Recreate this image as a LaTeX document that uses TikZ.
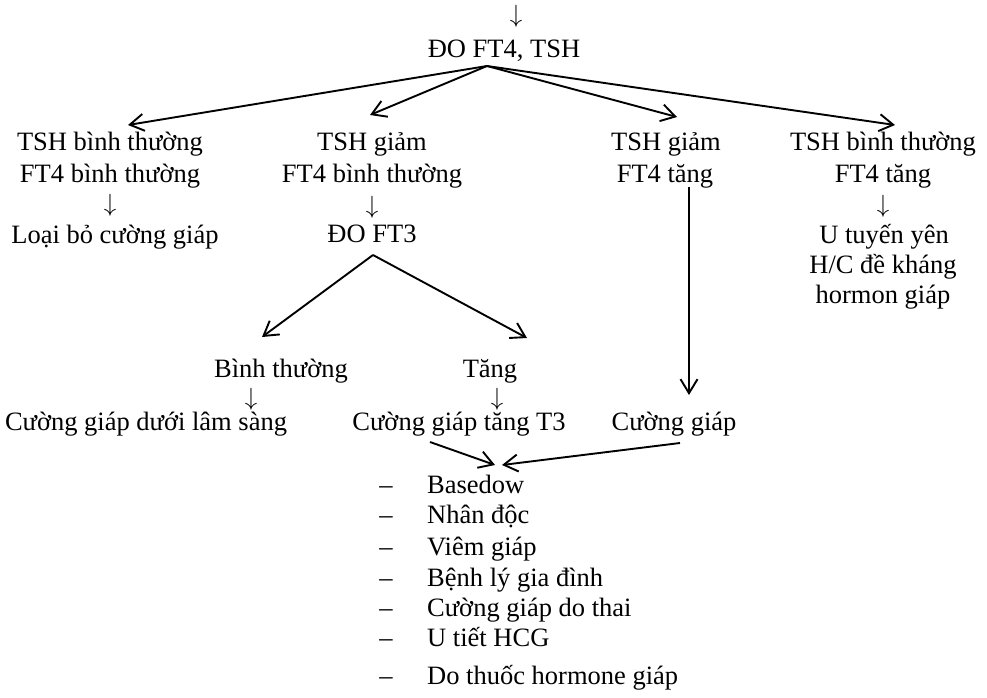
\documentclass[tikz,border=0pt]{standalone}
\usepackage{fontspec}
\setmainfont{Liberation Serif}
\usetikzlibrary{arrows.meta,positioning}

\begin{document}
\begin{tikzpicture}
[x=1pt, y=-1pt,
text-a/.style={inner sep=0pt, anchor=base, font=\fontsize{26.5}{30}\selectfont},
text-b/.style={text-a, anchor=base west},
down-a/.style={inner sep=0pt, anchor=center, font=\fontsize{27}{28}\selectfont},
link-a/.style={line width=1.9pt, -{Straight Barb[length=14pt,width=17pt,line width=1.9pt]}},]
\useasboundingbox (0,0) rectangle (987,697);
% top
\node (dn-0)     [down-a] at (516,16)  {$\downarrow$};
\node (do-ft4)   [text-a] at (504,57)  {ĐO FT4, TSH};
% four branches
\node (tsh-1)    [text-a] at (110,150) {TSH bình thường};
\node (ft4-1)    [text-a] at (110,182) {FT4 bình thường};
\node (dn-1)     [down-a] at (110,205) {$\downarrow$};
\node (res-1)    [text-a] at (115,243) {Loại bỏ cường giáp};
\node (tsh-2)    [text-a] at (372,150) {TSH giảm};
\node (ft4-2)    [text-a] at (372,182) {FT4 bình thường};
\node (dn-2)     [down-a] at (372,207) {$\downarrow$};
\node (do-ft3)   [text-a] at (372,242) {ĐO FT3};
\node (tsh-3)    [text-a] at (666,150) {TSH giảm};
\node (ft4-3)    [text-a] at (665,182) {FT4 tăng};
\node (tsh-4)    [text-a] at (883,150) {TSH bình thường};
\node (ft4-4)    [text-a] at (883,182) {FT4 tăng};
\node (dn-4)     [down-a] at (883,206) {$\downarrow$};
\node (res-4a)   [text-a] at (884,243) {U tuyến yên};
\node (res-4b)   [text-a] at (883,273) {H/C đề kháng};
\node (res-4c)   [text-a] at (883,303) {hormon giáp};
% FT3
\node (ft3-n)    [text-a] at (281,377) {Bình thường};
\node (ft3-t)    [text-a] at (490,377) {Tăng};
\node (dn-n)     [down-a] at (251,399) {$\downarrow$};
\node (dn-t)     [down-a] at (497,399) {$\downarrow$};
\node (res-n)    [text-a] at (146,430) {Cường giáp dưới lâm sàng};
\node (res-t)    [text-a] at (459,430) {Cường giáp tăng T3};
\node (res-3)    [text-a] at (674,430) {Cường giáp};
% causes
\foreach \i/\y/\txt in {1/493/Basedow, 2/523/Nhân độc, 3/555/Viêm giáp,
  4/586/Bệnh lý gia đình, 5/616/Cường giáp do thai, 6/646/U tiết HCG,
  7/684/Do thuốc hormone giáp}
{
  \node (dash-\i)  [text-a] at (386,\y) {–};
  \node (cause-\i) [text-b] at (427,\y) {\txt};
}
% arrow ends
\coordinate (fork-0) at (487,66);
\coordinate (tip-1)  at (128,125);
\coordinate (tip-2)  at (370,115);
\coordinate (tip-3)  at (677,117);
\coordinate (tip-4)  at (895,125);
\coordinate (fork-3) at (373,255);
\coordinate (tip-n)  at (262,337);
\coordinate (tip-t)  at (527,338);
\coordinate (line-3) at (689,187);
\coordinate (tip-c)  at (689,395);
\coordinate (from-t) at (430,442);
\coordinate (from-c) at (680,443);
\coordinate (tip-l)  at (495,465);
\coordinate (tip-r)  at (502,465);
\draw [link-a] (fork-0) -- (tip-1);
\draw [link-a] (fork-0) -- (tip-2);
\draw [link-a] (fork-0) -- (tip-3);
\draw [link-a] (fork-0) -- (tip-4);
\draw [link-a] (fork-3) -- (tip-n);
\draw [link-a] (fork-3) -- (tip-t);
\draw [link-a] (line-3) -- (tip-c);
\draw [link-a] (from-t) -- (tip-l);
\draw [link-a] (from-c) -- (tip-r);
\end{tikzpicture}
\end{document}
